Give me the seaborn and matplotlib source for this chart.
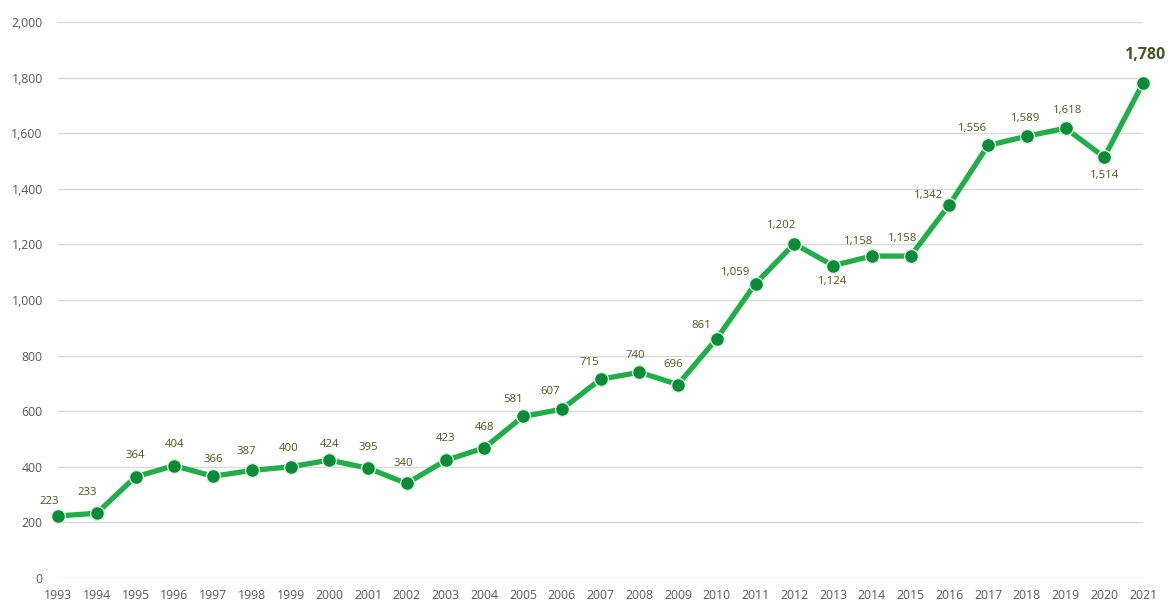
import numpy as np
import pandas as pd
import matplotlib
matplotlib.use("Agg")
import matplotlib.pyplot as plt
import seaborn as sns

years = list(range(1993, 2022))
values = [223, 233, 364, 404, 366, 387, 400, 424, 395, 340, 423, 468, 581, 607,
          715, 740, 696, 861, 1059, 1202, 1124, 1158, 1158, 1342, 1556, 1589,
          1618, 1514, 1780]

df = pd.DataFrame({"year": years, "value": values})

# label offsets in pixels (dx, dy) from the point centre to the label centre
offsets = {1993: (-9, 15), 1994: (-10, 21), 1995: (0, 21), 1996: (0, 21),
           1997: (0, 17), 1998: (-5, 19), 1999: (-2, 18), 2000: (0, 16),
           2001: (0, 21), 2002: (-3, 20), 2003: (0, 22), 2004: (0, 20),
           2005: (-10, 17), 2006: (-12, 18), 2007: (-11, 17), 2008: (-4, 17),
           2009: (-5, 20), 2010: (-15, 13), 2011: (-20, 11), 2012: (-13, 18),
           2013: (0, -16), 2014: (-13, 15), 2015: (-8, 18), 2016: (-21, 9),
           2017: (-15, 17), 2018: (-1, 18), 2019: (2, 18), 2020: (0, -18),
           2021: (2, 28)}

sns.set_style("white")
plt.rcParams['font.family'] = ['Open Sans', 'DejaVu Sans']

fig = plt.figure(figsize=(11.7, 6.03), dpi=100)
ax = fig.add_axes([58 / 1170, 25 / 603, (1143 - 58) / 1170, (578 - 22) / 603])

sns.lineplot(data=df, x="year", y="value", ax=ax, color="#1fae48", linewidth=3.8,
             marker="o", markersize=10, markerfacecolor="#0b8a38",
             markeredgecolor="#d8f0dc", markeredgewidth=1.0, clip_on=False, zorder=3)

ax.set_xlim(1993, 2021)
ax.set_ylim(0, 2000)
ax.set_yticks(range(0, 2001, 200))
ax.set_yticklabels([f"{v:,}" for v in range(0, 2001, 200)])
ax.set_xticks(years)
ax.grid(axis="y", color="#d9d9d9", linewidth=1)
ax.set_axisbelow(True)
for s in ax.spines.values():
    s.set_visible(False)
ax.tick_params(axis="both", length=0, labelsize=8.8, colors="#595959")
ax.tick_params(axis="y", pad=11)
ax.tick_params(axis="x", pad=8)
ax.set_xlabel("")
ax.set_ylabel("")

for y, v in zip(years, values):
    dx, dy = offsets[y]
    if y == 2021:
        ax.annotate(f"{v:,}", (y, v), xytext=(dx, dy), textcoords="offset pixels",
                    ha="center", va="center", fontsize=11.5, fontweight="bold",
                    color="#3d5a1e", annotation_clip=False)
    else:
        ax.annotate(f"{v:,}", (y, v), xytext=(dx, dy), textcoords="offset pixels",
                    ha="center", va="center", fontsize=8.2, color="#4a5a1a")

fig.savefig("out.png", dpi=100)
